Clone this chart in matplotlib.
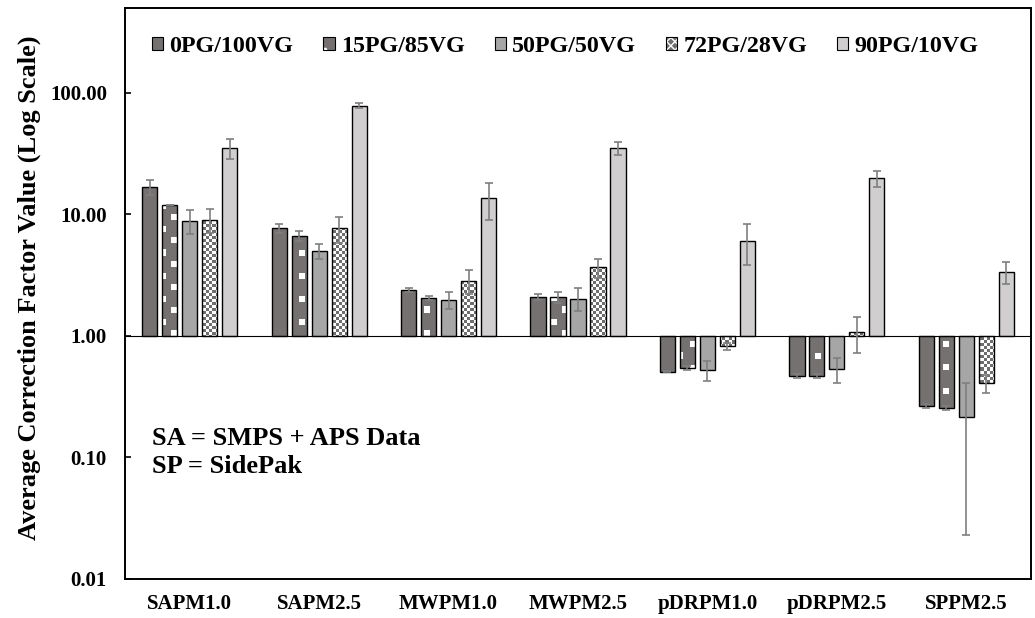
import numpy as np
import matplotlib
matplotlib.use('Agg')
import matplotlib.pyplot as plt
import matplotlib.colors as mcolors
from matplotlib.patches import Patch
from matplotlib.ticker import NullLocator

plt.rcParams['font.family'] = ['Liberation Serif', 'DejaVu Serif']
plt.rcParams['font.weight'] = 'bold'

categories = ['SAPM1.0', 'SAPM2.5', 'MWPM1.0', 'MWPM2.5', 'pDRPM1.0', 'pDRPM2.5', 'SPPM2.5']
series_names = ['0PG/100VG', '15PG/85VG', '50PG/50VG', '72PG/28VG', '90PG/10VG']

pg0 = [16.9, 7.7, 2.38, 2.10, 0.508, 0.471, 0.267]
pg0_err = [2.4, 0.7, 0.10, 0.13, 0.005, 0.02, 0.01]
pg15 = [12.0, 6.65, 2.06, 2.10, 0.542, 0.471, 0.254]
pg15_err = [0.05, 0.65, 0.07, 0.22, 0.02, 0.02, 0.01]
pg50 = [8.84, 4.99, 1.98, 2.03, 0.528, 0.535, 0.217]
pg50_err = [2.0, 0.7, 0.30, 0.44, 0.10, 0.125, 0.194]
pg72 = [9.0, 7.7, 2.86, 3.66, 0.822, 1.08, 0.408]
pg72_err = [2.0, 1.9, 0.65, 0.65, 0.06, 0.35, 0.07]
pg90 = [35.3, 78.8, 13.6, 35.1, 6.07, 19.9, 3.37]
pg90_err = [6.5, 4.0, 4.6, 4.2, 2.2, 3.0, 0.7]

y_ticks = [0.01, 0.1, 1, 10, 100]

values = [pg0, pg15, pg50, pg72, pg90]
errors = [pg0_err, pg15_err, pg50_err, pg72_err, pg90_err]
colors = ['#767171', '#767171', '#a6a6a6', '#6e6e6e', '#d0cece']
fills = ['solid', 'squares', 'solid', 'checker', 'solid']
legend_hatch = {'squares': '.', 'checker': 'xxxx'}


def make_pattern(kind, w, h, base):
    # white pattern over the base grey, one array pixel per screen pixel
    yy, xx = np.mgrid[0:h, 0:w]
    if kind == 'checker':
        white = ((xx // 3 + yy // 3) % 2) == 0
    else:
        white = (((xx % 23) < 6) & ((yy % 23) < 6)) | \
                ((((xx + 11) % 23) < 6) & (((yy + 11) % 23) < 6))
    img = np.ones((h, w, 3))
    img[~white] = mcolors.to_rgb(base)
    return img


fig = plt.figure(figsize=(10.35, 6.18), dpi=100)
ax = fig.add_axes([125 / 1035, 39 / 618, 906 / 1035, 571 / 618])
ax.set_yscale('log')
ax.set_xlim(-0.5, len(categories) - 0.5)
ax.set_ylim(0.01, 500)
ax.set_autoscale_on(False)

w_px, h_px = 906, 571
x = np.arange(len(categories))
step = 0.1545
width = 0.118

handles = []
for i, (vals, errs) in enumerate(zip(values, errors)):
    xs = x + (i - 2) * step
    vals = np.array(vals)
    if fills[i] == 'solid':
        ax.bar(xs, vals - 1, width, bottom=1, color=colors[i], edgecolor='black',
               linewidth=1.0, zorder=3)
        handles.append(Patch(facecolor=colors[i], edgecolor='black', linewidth=0.8))
    else:
        bars = ax.bar(xs, vals - 1, width, bottom=1, facecolor='none', edgecolor='black',
                      linewidth=1.0, zorder=3)
        pat = make_pattern(fills[i], w_px, h_px, colors[i])
        for b in bars:
            im = ax.imshow(pat, extent=(0, 1, 0, 1), transform=ax.transAxes,
                           interpolation='nearest', aspect='auto', zorder=2.5)
            im.set_clip_path(b)
        handles.append((Patch(facecolor=colors[i], edgecolor='white', linewidth=0,
                              hatch=legend_hatch[fills[i]]),
                        Patch(facecolor='none', edgecolor='black', linewidth=0.8)))
    ax.errorbar(xs, vals, yerr=errs, fmt='none', ecolor='#7f7f7f', elinewidth=1.2,
                capsize=3.2, capthick=1.2, zorder=4)

ax.set_xlim(-0.5, len(categories) - 0.5)
ax.set_ylim(0.01, 500)
ax.axhline(1, color='black', linewidth=0.8, zorder=3.5)

ax.set_xticks(x)
ax.set_xticklabels(categories, fontsize=15, fontweight='bold')
ax.tick_params(axis='x', length=0, pad=11)

ax.set_yticks(y_ticks)
ax.set_yticklabels(['%.2f' % v for v in y_ticks], fontsize=15, fontweight='bold')
ax.yaxis.set_minor_locator(NullLocator())
ax.tick_params(axis='y', direction='in', length=4.5, width=1.2, pad=13)

for sp in ax.spines.values():
    sp.set_linewidth(1.4)

ax.set_ylabel('Average Correction Factor Value (Log Scale)', fontsize=19,
              fontweight='bold', va='center')
ax.yaxis.set_label_coords((29 - 125) / 906, (579 - 287.5) / 571)

leg = ax.legend(handles, series_names, loc='center left',
                bbox_to_anchor=((152 - 125) / 906, (579 - 46.7) / 571),
                ncol=5, frameon=False, fontsize=17.3, handlelength=0.47,
                handleheight=0.45, handletextpad=0.25, columnspacing=1.25,
                borderpad=0, borderaxespad=0)
for t in leg.get_texts():
    t.set_fontweight('bold')

ax.text((152 - 125) / 906, (579 - 445) / 571, 'SA = SMPS + APS Data',
        transform=ax.transAxes, fontsize=19, fontweight='bold', va='baseline')
ax.text((152 - 125) / 906, (579 - 473) / 571, 'SP = SidePak',
        transform=ax.transAxes, fontsize=19, fontweight='bold', va='baseline')

fig.savefig('out.png', dpi=100)
